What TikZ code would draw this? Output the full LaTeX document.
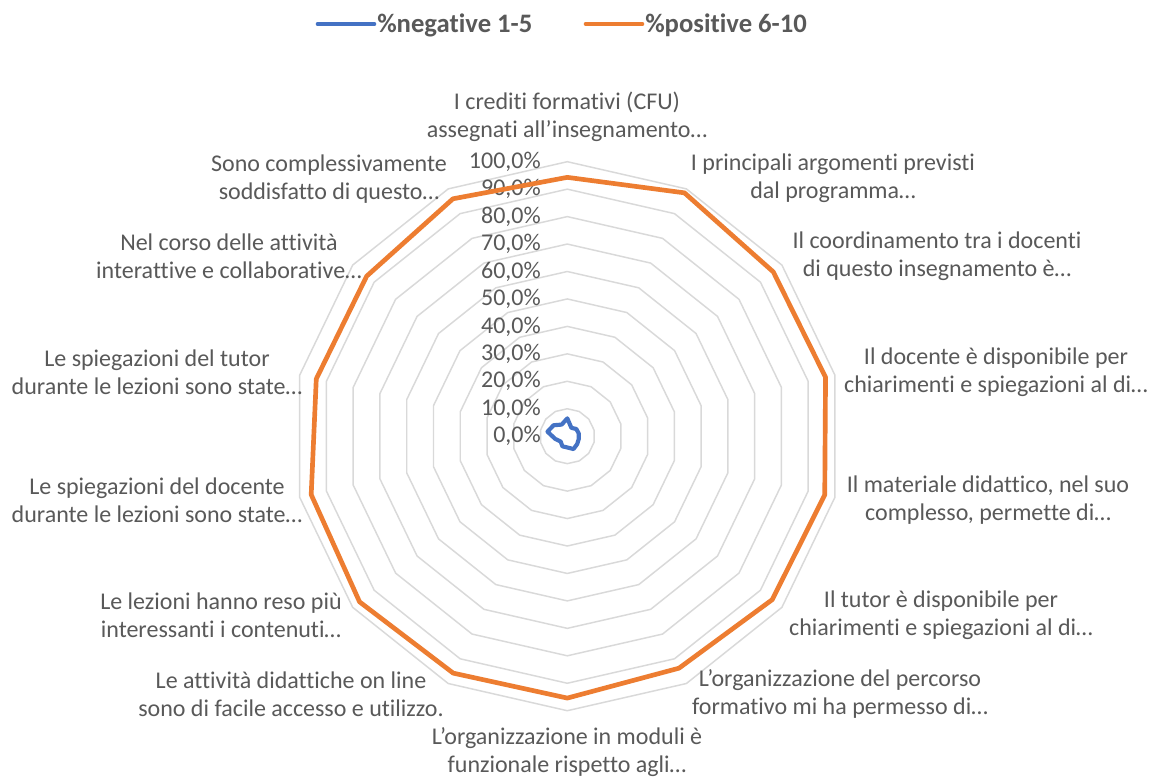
\documentclass[tikz,border=0pt]{standalone}
\usepackage{fontspec}
\setmainfont{Carlito}[Ligatures=NoCommon]
\definecolor{txt}{HTML}{595959}
\definecolor{gridc}{HTML}{D9D9D9}
\definecolor{orng}{HTML}{ED7D31}
\definecolor{blu}{HTML}{4472C4}
\newcommand\rpt[2]{({567.3+2.745*(#2)*sin((#1)*360/14)},{436.2-2.745*(#2)*cos((#1)*360/14)})}
\begin{document}
\begin{tikzpicture}[x=0.75pt,y=-0.75pt,
  lbl/.style={text=txt,font=\fontsize{18}{21}\selectfont,align=center,inner sep=0pt},
  axlbl/.style={text=txt,font=\fontsize{18}{21}\selectfont,anchor=east,inner sep=0pt},
  leg/.style={text=txt,font=\fontsize{20}{24}\selectfont\bfseries,anchor=west,inner sep=0pt},
  gridline/.style={draw=gridc,line width=1.1pt},
  serpos/.style={draw=orng,line width=3.5pt,line join=round,line cap=round},
  serneg/.style={draw=blu,line width=3.1pt,line join=round,line cap=round}]
\useasboundingbox (0,0) rectangle (1157,778);
\fill[white] (0,0) rectangle (1157,778);
% rings
\foreach \i in {1,...,10} {
  \draw[gridline] \rpt{0}{\i*10} \foreach \k in {1,...,13} { -- \rpt{\k}{\i*10} } -- cycle;
}
% axis labels
\node[axlbl] (ax0) at (541,436.2) {0,0\%};
\foreach \i in {1,...,10} {
  \node[axlbl] (ax\i) at (541,{436.2-27.45*\i}) {\i0,0\%};
}
% series
\draw[serpos] \rpt{0}{94.3} -- \rpt{1}{98.4} -- \rpt{2}{96} -- \rpt{3}{96.5} -- \rpt{4}{96.2}
  -- \rpt{5}{95.5} -- \rpt{6}{93.8} -- \rpt{7}{95.4} -- \rpt{8}{95.8} -- \rpt{9}{96.8}
  -- \rpt{10}{95.7} -- \rpt{11}{93.8} -- \rpt{12}{93.5} -- \rpt{13}{96} -- cycle;
\draw[serneg] \rpt{0}{6.5} -- \rpt{1}{3.4} -- \rpt{2}{4.2} -- \rpt{3}{4.3} -- \rpt{4}{4.3}
  -- \rpt{5}{4.6} -- \rpt{6}{5.2} -- \rpt{7}{4.1} -- \rpt{8}{4.1} -- \rpt{9}{3.1}
  -- \rpt{10}{4.5} -- \rpt{11}{7.4} -- \rpt{12}{6.4} -- \rpt{13}{4.7} -- cycle;
% category labels
\node[lbl] (l0) at (567,117) {I crediti formativi (CFU)\\assegnati all’insegnamento…};
\node[lbl] (l1) at (833,178) {I principali argomenti previsti\\dal programma…};
\node[lbl] (l2) at (937,256) {Il coordinamento tra i docenti\\di questo insegnamento è…};
\node[lbl] (l3) at (996,372) {Il docente è disponibile per\\chiarimenti e spiegazioni al di…};
\node[lbl] (l4) at (988,500) {Il materiale didattico, nel suo\\complesso, permette di…};
\node[lbl] (l5) at (941,615) {Il tutor è disponibile per\\chiarimenti e spiegazioni al di…};
\node[lbl] (l6) at (840,694) {L’organizzazione del percorso\\formativo mi ha permesso di…};
\node[lbl] (l7) at (567,752) {L’organizzazione in moduli è\\funzionale rispetto agli…};
\node[lbl] (l8) at (291,694) {Le attività didattiche on line\\sono di facile accesso e utilizzo.};
\node[lbl] (l9) at (221,615) {Le lezioni hanno reso più\\interessanti i contenuti…};
\node[lbl] (l10) at (157,500) {Le spiegazioni del docente\\durante le lezioni sono state…};
\node[lbl] (l11) at (157,372) {Le spiegazioni del tutor\\durante le lezioni sono state…};
\node[lbl] (l12) at (229,256) {Nel corso delle attività\\interattive e collaborative…};
\node[lbl] (l13) at (329,179) {Sono complessivamente\\soddisfatto di questo…};
% legend
\coordinate (bl1) at (318,24); \coordinate (bl2) at (374,24);
\coordinate (or1) at (586,24); \coordinate (or2) at (642,24);
\draw[serneg,line width=3.5pt] (bl1) -- (bl2);
\node[leg] (legneg) at (377,25) {\%negative 1-5};
\draw[serpos] (or1) -- (or2);
\node[leg] (legpos) at (645,25) {\%positive 6-10};
\end{tikzpicture}
\end{document}
